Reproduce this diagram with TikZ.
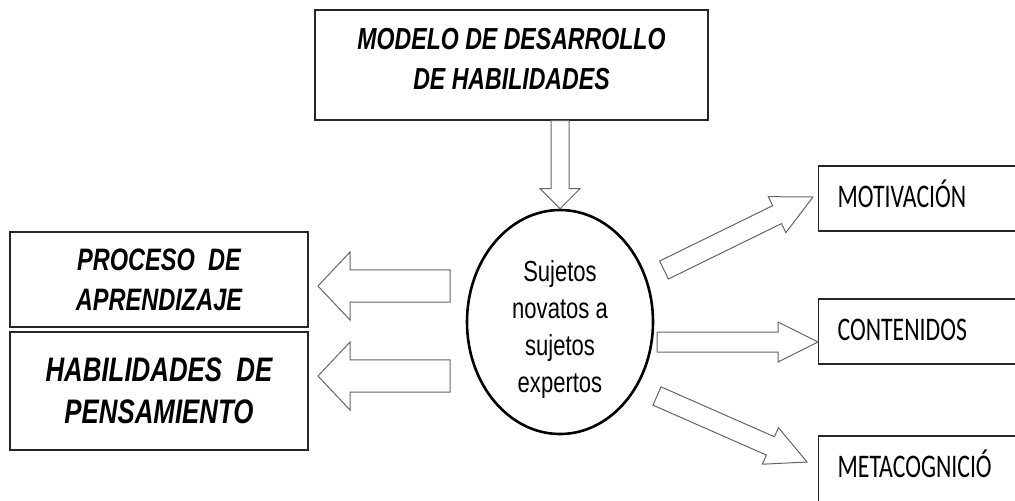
\documentclass[tikz,border=0pt]{standalone}
\usepackage{fontspec}
\usetikzlibrary{calc,shapes.geometric}

\newfontfamily\arialfont[FakeStretch=0.76]{Liberation Sans}
\newfontfamily\calibrifont[FakeStretch=0.72]{Carlito}

% hollow block arrow: tail, tip, shaft half width, head half width, head length
\newcommand{\blockarrow}[5]{%
  \draw[blockarr] ($(#1)!#3!90:(#2)$) -- ($(#2)!#5!(#1)!#3!-90:(#1)$)
    -- ($(#2)!#5!(#1)!#4!-90:(#1)$) -- (#2)
    -- ($(#2)!#5!(#1)!#4!90:(#1)$) -- ($(#2)!#5!(#1)!#3!90:(#1)$)
    -- ($(#1)!#3!-90:(#2)$) -- cycle;}

\tikzset{
  box/.style={draw=black!85, line width=0.6pt, inner sep=0pt, align=center},
  rbox/.style={draw=black!85, line width=0.6pt, anchor=base west, inner xsep=9.5pt,
    inner ysep=0pt, text width=87pt, text height=20.5pt, text depth=12pt,
    font=\calibrifont\fontsize{16.5}{20}\selectfont},
  blockarr/.style={draw=black!60, line width=0.5pt, line join=miter, fill=white},
}

\begin{document}
\begin{tikzpicture}[x=0.5pt, y=-0.5pt]
  \useasboundingbox (0,0) rectangle (1015,500);

  % title
  \node[box, minimum width=196.5pt, minimum height=55pt] (model) at (511.5,65) {};
  \node[align=center, inner sep=0pt, font=\arialfont\bfseries\itshape\fontsize{15.2}{20}\selectfont]
    (modeltext) at ([yshift=3pt]model.center) {MODELO DE DESARROLLO\\DE HABILIDADES};

  % centre
  \node[draw, ellipse, line width=1.3pt, minimum width=93pt, minimum height=112pt,
    inner sep=0pt] (circ) at (560,322) {};
  \node[align=center, inner sep=0pt, font=\arialfont\fontsize{14.5}{18.5}\selectfont]
    (circtext) at ([yshift=-3.5pt]circ.center) {Sujetos\\novatos a\\sujetos\\expertos};

  % left side
  \node[box, minimum width=149pt, minimum height=47.5pt,
    font=\arialfont\bfseries\itshape\fontsize{15.5}{20}\selectfont]
    (proc) at (159,279.5) {PROCESO\ \ DE\\APRENDIZAJE};
  \node[box, minimum width=149pt, minimum height=59pt,
    font=\arialfont\bfseries\itshape\fontsize{17}{21}\selectfont]
    (hab) at (159,391) {HABILIDADES\ \ DE\\PENSAMIENTO};

  % right side
  \node[rbox] (motiv) at (818,207) {MOTIVACIÓN};
  \node[rbox] (cont) at (818,340) {CONTENIDOS};
  \node[rbox, text depth=27pt] (meta) at (818,477) {METACOGNICIÓ};

  % arrow ends
  \coordinate (dtail) at (model.south -| circ.north);
  \coordinate (ltail1) at (450,286);
  \coordinate (ltip1) at (318,286);
  \coordinate (ltail2) at (450,376);
  \coordinate (ltip2) at (318,376);
  \coordinate (rtail1) at (664,270);
  \coordinate (rtip1) at (813,197);
  \coordinate (rtail2) at (657,342);
  \coordinate (rtip2) at (818,342);
  \coordinate (rtail3) at (657,396);
  \coordinate (rtip3) at (807,462);

  % arrows
  \blockarrow{dtail}{circ.north}{4.5pt}{10pt}{10pt}
  \blockarrow{ltail1}{ltip1}{8.1pt}{17pt}{16pt}
  \blockarrow{ltail2}{ltip2}{8.1pt}{17pt}{16pt}
  \blockarrow{rtail1}{rtip1}{5pt}{10pt}{20pt}
  \blockarrow{rtail2}{rtip2}{5pt}{10pt}{20pt}
  \blockarrow{rtail3}{rtip3}{5pt}{10pt}{20pt}
\end{tikzpicture}
\end{document}
